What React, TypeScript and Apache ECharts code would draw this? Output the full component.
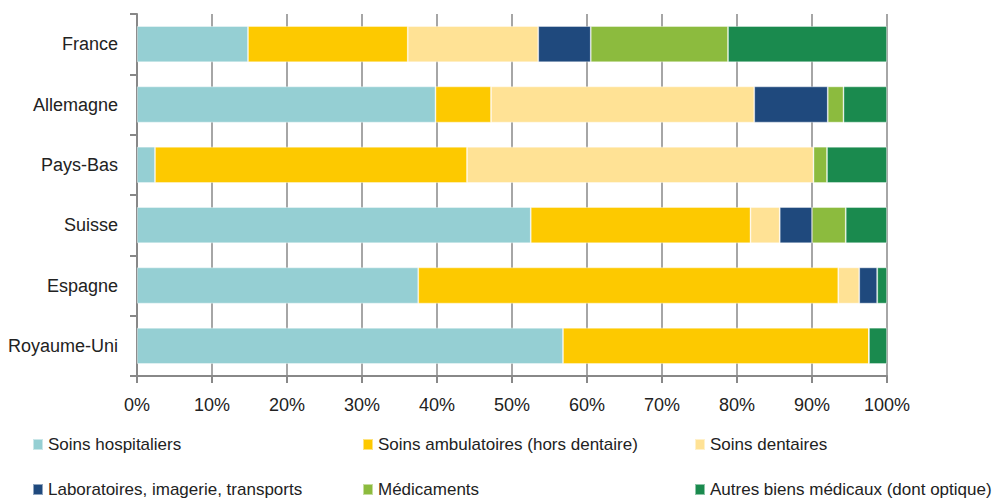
import React, { useEffect, useRef } from "react";
import * as echarts from "echarts";

const countries = ["France", "Allemagne", "Pays-Bas", "Suisse", "Espagne", "Royaume-Uni"];
const seriesNames = [
  "Soins hospitaliers",
  "Soins ambulatoires (hors dentaire)",
  "Soins dentaires",
  "Laboratoires, imagerie, transports",
  "Médicaments",
  "Autres biens médicaux (dont optique)",
];
const colors = ["#95CFD3", "#FDC900", "#FFE295", "#1F497D", "#8CBB3E", "#1A8A4E"];

const hospitaliers = [14.8, 39.8, 2.4, 52.5, 37.5, 56.8];
const ambulatoires = [21.3, 7.4, 41.6, 29.3, 56.0, 40.8];
const dentaires = [17.4, 35.1, 46.2, 3.9, 2.8, 0];
const laboratoires = [7.0, 9.8, 0, 4.3, 2.4, 0];
const medicaments = [18.3, 2.1, 1.8, 4.5, 0, 0];
const autres = [21.2, 5.8, 8.0, 5.5, 1.3, 2.4];

const xTicks = [0, 10, 20, 30, 40, 50, 60, 70, 80, 90, 100];

const FONT = "'Liberation Sans', Arial, sans-serif";
const FS = 18;

export default function App() {
  const ref = useRef<HTMLDivElement>(null);
  useEffect(() => {
    document.body.style.margin = "0";
    const chart = echarts.init(ref.current!, null, { renderer: "svg" });
    const values = [hospitaliers, ambulatoires, dentaires, laboratoires, medicaments, autres];
    const legendPos = [
      { left: 32, top: 436 },
      { left: 362, top: 436 },
      { left: 694, top: 436 },
      { left: 32, top: 481 },
      { left: 362, top: 481 },
      { left: 694, top: 481 },
    ];
    chart.setOption({
      animation: false,
      textStyle: { fontFamily: FONT },
      legend: seriesNames.map((n, i) => ({
        data: [n],
        left: legendPos[i].left,
        top: legendPos[i].top,
        padding: 0,
        itemWidth: 10,
        itemHeight: 11,
        itemGap: 5,
        icon: "rect",
        selectedMode: false,
        textStyle: { fontFamily: FONT, fontSize: 17, color: "#222" },
      })),
      grid: { left: 137, right: 116, top: 14, bottom: 123, outerBoundsMode: "none", containLabel: false },
      xAxis: {
        type: "value",
        min: 0,
        max: 100,
        interval: 10,
        axisLine: { show: true, lineStyle: { color: "#888", width: 2 } },
        axisTick: { show: true, length: 7, lineStyle: { color: "#888", width: 2 } },
        splitLine: { show: true, lineStyle: { color: "#888", width: 1.5 } },
        axisLabel: {
          formatter: (v: number) => (xTicks.includes(v) ? v + "%" : ""),
          fontFamily: FONT,
          fontSize: FS,
          color: "#222",
          margin: 20,
        },
      },
      yAxis: {
        type: "category",
        data: countries,
        inverse: true,
        axisLine: { show: true, lineStyle: { color: "#888", width: 2 } },
        axisTick: { show: true, length: 7, lineStyle: { color: "#888", width: 2 } },
        axisLabel: { fontFamily: FONT, fontSize: FS, color: "#222", margin: 19 },
      },
      series: seriesNames.map((n, i) => ({
        name: n,
        type: "bar",
        stack: "total",
        barWidth: "60%",
        data: values[i],
        itemStyle: { color: colors[i], borderColor: "rgba(255,255,255,0.5)", borderWidth: 0.8 },
      })),
    });
    return () => chart.dispose();
  }, []);
  return <div ref={ref} style={{ width: 1003, height: 499 }} />;
}
